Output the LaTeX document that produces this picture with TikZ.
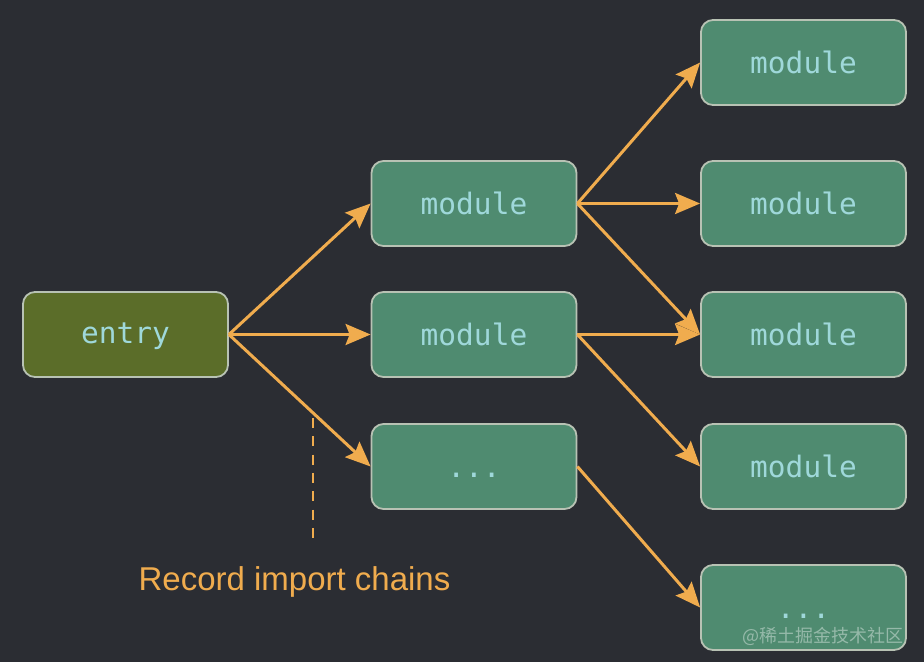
\documentclass[tikz,border=0pt]{standalone}
\usepackage{fontspec}
\setmainfont{Liberation Sans}
\setmonofont{DejaVu Sans Mono}
\newfontfamily\cjkfont{Noto Sans CJK SC}
\usetikzlibrary{arrows.meta}
\definecolor{bg}{HTML}{2B2D33}
\definecolor{entryfill}{HTML}{5B6D29}
\definecolor{modfill}{HTML}{4F8B70}
\definecolor{boxedge}{HTML}{B8C2B4}
\definecolor{boxtext}{HTML}{9FD8DA}
\definecolor{flow}{HTML}{F0AC4E}
\tikzset{
  box/.style={draw=boxedge, line width=1.8pt, rounded corners=12pt,
    minimum width=205pt, minimum height=85pt, fill=modfill, text=boxtext,
    font=\ttfamily\fontsize{29.5}{33}\selectfont, inner sep=0pt,
    text height=24pt, text depth=2pt},
  entrybox/.style={box, fill=entryfill, text height=22pt, text depth=5pt},
  link/.style={draw=flow, line width=3pt,
    -{Stealth[length=25pt,width=21pt,inset=4pt]}},
  note/.style={text=flow, font=\fontsize{33}{37}\selectfont, inner sep=0pt}
}
\begin{document}
\begin{tikzpicture}[x=1pt,y=-1pt]
  \fill[bg] (0,0) rectangle (924,662);
  \useasboundingbox (0,0) rectangle (924,662);

  % entry point
  \node[entrybox] (entry) at (125.5,334.5) {entry};

  % first level of imports
  \node[box] (m1) at (474,203.5) {module};
  \node[box] (m2) at (474,334.5) {module};
  \node[box] (m3) at (474,466.5) {...};

  % second level of imports
  \node[box] (n1) at (803.5,62.5)  {module};
  \node[box] (n2) at (803.5,203.5) {module};
  \node[box] (n3) at (803.5,334.5) {module};
  \node[box] (n4) at (803.5,466.5) {module};
  \node[box] (n5) at (803.5,607.5) {...};

  % import edges
  \draw[link] (entry.east) -- (m1.west);
  \draw[link] (entry.east) -- (m2.west);
  \draw[link] (entry.east) -- (m3.west);
  \draw[link] (m1.east) -- (n1.west);
  \draw[link] (m1.east) -- (n2.west);
  \draw[link] (m1.east) -- (n3.west);
  \draw[link] (m2.east) -- (n3.west);
  \draw[link] (m2.east) -- (n4.west);
  \draw[link] (m3.east) -- (n5.west);

  % annotation
  \coordinate (tickTop) at (313,418);
  \coordinate (tickBot) at (313,538);
  \draw[flow, line width=2pt, dash pattern=on 10pt off 8.33pt] (tickTop) -- (tickBot);
  \node[note, anchor=base] (caption) at (294.5,590) {Record import chains};

  % watermark
  \node[text=white, opacity=0.4, anchor=east, inner sep=0pt,
        font=\cjkfont\fontsize{18}{20}\selectfont] (wm) at (904,636) {@稀土掘金技术社区};
\end{tikzpicture}
\end{document}
